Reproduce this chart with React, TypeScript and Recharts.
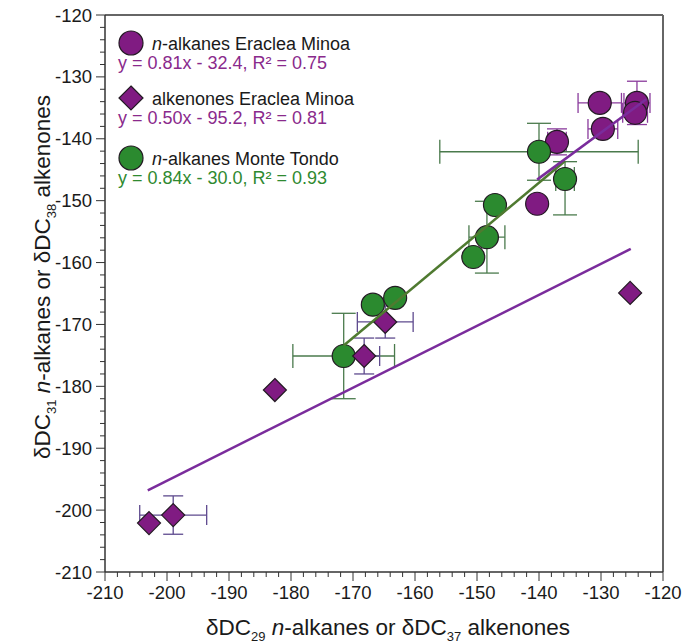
import React from 'react';
import { ScatterChart, Scatter, XAxis, YAxis, ErrorBar, ReferenceLine } from 'recharts';

const FONT = '"Liberation Sans", Arial, Helvetica, sans-serif';

// axis ticks
const majorTicks = [-210, -200, -190, -180, -170, -160, -150, -140, -130, -120];
const minorStep = 2;
const allTicks: number[] = [];
for (let i = 0; i < majorTicks.length - 1; i++) {
  for (let v = majorTicks[i]; v < majorTicks[i + 1]; v += minorStep) allTicks.push(v);
}
allTicks.push(majorTicks[majorTicks.length - 1]);

// n-alkanes Eraclea Minoa (purple circles)
const emAlkX = [-130.2, -124.2, -124.5, -129.7, -137.1, -140.3];
const emAlkY = [-134.2, -134.2, -135.8, -138.4, -140.5, -150.5];
const emAlkXErr = [3.5, 2.1, 2.0, 2.4, 1.5, null];
const emAlkYErr = [null, 3.5, null, null, 2.1, null];

// alkenones Eraclea Minoa (purple diamonds)
const emKetX = [-182.6, -168.2, -164.8, -125.3, -202.9, -199.0];
const emKetY = [-180.6, -175.1, -169.6, -164.9, -202.1, -200.8];
const emKetXErr = [null, 2.5, 4.5, null, null, 5.4];
const emKetYErr = [null, 2.9, 2.6, null, null, 3.1];

// n-alkanes Monte Tondo (green circles)
const mtAlkX = [-140.0, -135.8, -147.1, -148.4, -150.6, -166.8, -163.2, -171.5];
const mtAlkY = [-142.1, -146.5, -150.7, -155.9, -159.1, -166.8, -165.7, -175.1];
const mtAlkXErr = [16.0, 1.5, null, 2.9, null, null, null, 8.2];
const mtAlkYErr: any[] = [4.6, [5.8, 2.8], null, 5.8, null, null, null, 6.9];

// regression lines, end points
const fitEmAlkX = [-140.3, -122.7];
const fitEmAlkY = [-146.6, -133.6];
const fitEmKetX = [-203.1, -125.2];
const fitEmKetY = [-196.8, -157.8];
const fitMtAlkX = [-171.5, -135.8];
const fitMtAlkY = [-173.4, -143.6];

const toRows = (xs: number[], ys: number[], xe: any[], ye: any[]) =>
  xs.map((x, i) => ({ x, y: ys[i], ex: xe[i], ey: ye[i] }));
const lineRows = (xs: number[], ys: number[]) => xs.map((x, i) => ({ x, y: ys[i] }));

const emAlkData = toRows(emAlkX, emAlkY, emAlkXErr, emAlkYErr);
const emKetData = toRows(emKetX, emKetY, emKetXErr, emKetYErr);
const mtAlkData = toRows(mtAlkX, mtAlkY, mtAlkXErr, mtAlkYErr);

const PURPLE = '#801b82';
const GREEN = '#2b8a2f';
const PURPLE_TEXT = '#8a2a8c';
const GREEN_TEXT = '#2f8a30';
const PURPLE_LINE = '#7a2c9c';
const GREEN_LINE = '#4f7a30';
const OUTLINE = '#231a23';

const CircleShape = (fill: string) => (props: any) => {
  const { cx, cy } = props;
  if (cx == null || cy == null) return <g />;
  return <circle cx={cx} cy={cy} r={11.5} fill={fill} stroke={OUTLINE} strokeWidth={1.2} />;
};
const DiamondShape = (props: any) => {
  const { cx, cy } = props;
  if (cx == null || cy == null) return <g />;
  const r = 11.5;
  return (
    <polygon
      points={`${cx},${cy - r} ${cx + r},${cy} ${cx},${cy + r} ${cx - r},${cy}`}
      fill={PURPLE}
      stroke={OUTLINE}
      strokeWidth={1.2}
    />
  );
};
const NoShape = () => <g />;

const XTick = (props: any) => {
  const { x, y, payload } = props;
  const v = payload.value;
  const major = v % 10 === 0;
  return (
    <g>
      <line x1={x} x2={x} y1={y} y2={y + (major ? 9 : 5)} stroke="#333" strokeWidth={1} />
      {major && (
        <text x={x} y={y + 27} textAnchor="middle" fontSize={18.5} fill="#1a1a1a" fontFamily={FONT}>
          {v}
        </text>
      )}
    </g>
  );
};
const YTick = (props: any) => {
  const { x, y, payload } = props;
  const v = payload.value;
  const major = v % 10 === 0;
  return (
    <g>
      <line x1={x} x2={x - (major ? 9 : 5)} y1={y} y2={y} stroke="#333" strokeWidth={1} />
      {major && (
        <text x={x - 13} y={y + 6.5} textAnchor="end" fontSize={18.5} fill="#1a1a1a" fontFamily={FONT}>
          {v}
        </text>
      )}
    </g>
  );
};

export default function App() {
  return (
    <div style={{ position: 'absolute', left: 0, top: 0, width: 692, height: 643, background: '#fff' }}>
      <ScatterChart width={692} height={643} margin={{ top: 15, right: 29, bottom: 0, left: 0 }}>
        <XAxis
          type="number"
          dataKey="x"
          domain={[-210, -120]}
          ticks={allTicks}
          interval={0}
          tick={<XTick />}
          tickLine={false}
          tickSize={0}
          tickMargin={0}
          height={71}
          axisLine={{ stroke: '#333', strokeWidth: 1.5 }}
          allowDataOverflow
        />
        <YAxis
          type="number"
          dataKey="y"
          domain={[-210, -120]}
          ticks={allTicks}
          interval={0}
          tick={<YTick />}
          tickLine={false}
          tickSize={0}
          tickMargin={0}
          width={105}
          axisLine={{ stroke: '#333', strokeWidth: 1.5 }}
          allowDataOverflow
        />
        <ReferenceLine y={-120} stroke="#666" strokeWidth={2} ifOverflow="extendDomain" />
        <ReferenceLine x={-120} stroke="#666" strokeWidth={2} ifOverflow="extendDomain" />

        <Scatter data={emAlkData} shape={CircleShape(PURPLE)} isAnimationActive={false} />
        <Scatter data={emAlkData} shape={NoShape} isAnimationActive={false}>
          <ErrorBar dataKey="ex" direction="x" width={10} stroke="#8a3a9c" strokeWidth={1.3} />
          <ErrorBar dataKey="ey" direction="y" width={10} stroke="#8a3a9c" strokeWidth={1.3} />
        </Scatter>

        <Scatter data={mtAlkData} shape={CircleShape(GREEN)} isAnimationActive={false} />
        <Scatter data={mtAlkData} shape={NoShape} isAnimationActive={false}>
          <ErrorBar dataKey="ex" direction="x" width={12} stroke="#4a7a4c" strokeWidth={1.3} />
          <ErrorBar dataKey="ey" direction="y" width={12} stroke="#4a7a4c" strokeWidth={1.3} />
        </Scatter>

        <Scatter data={emKetData} shape={DiamondShape} isAnimationActive={false} />
        <Scatter data={emKetData} shape={NoShape} isAnimationActive={false}>
          <ErrorBar dataKey="ex" direction="x" width={10} stroke="#5e4a8e" strokeWidth={1.3} />
          <ErrorBar dataKey="ey" direction="y" width={10} stroke="#5e4a8e" strokeWidth={1.3} />
        </Scatter>

        <Scatter
          data={lineRows(fitEmKetX, fitEmKetY)}
          shape={NoShape}
          line={{ stroke: PURPLE_LINE, strokeWidth: 2.5 }}
          isAnimationActive={false}
        />
        <Scatter
          data={lineRows(fitMtAlkX, fitMtAlkY)}
          shape={NoShape}
          line={{ stroke: GREEN_LINE, strokeWidth: 2.5 }}
          isAnimationActive={false}
        />
        <Scatter
          data={lineRows(fitEmAlkX, fitEmAlkY)}
          shape={NoShape}
          line={{ stroke: PURPLE_LINE, strokeWidth: 2.5 }}
          isAnimationActive={false}
        />
      </ScatterChart>

      <svg
        width={692}
        height={643}
        style={{ position: 'absolute', left: 0, top: 0, pointerEvents: 'none' }}
        fontFamily={FONT}
      >
        {/* legend */}
        <circle cx={131} cy={43} r={12} fill={PURPLE} stroke={OUTLINE} strokeWidth={1.2} />
        <text x={152} y={49.5} fontSize={18} fill="#1a1a1a">
          <tspan fontStyle="italic">n</tspan>-alkanes Eraclea Minoa
        </text>
        <text x={118} y={69} fontSize={18} fill={PURPLE_TEXT}>
          y = 0.81x - 32.4, R² = 0.75
        </text>

        <polygon points="131,86 143,98 131,110 119,98" fill={PURPLE} stroke={OUTLINE} strokeWidth={1.2} />
        <text x={152} y={104.5} fontSize={18} fill="#1a1a1a">
          alkenones Eraclea Minoa
        </text>
        <text x={118} y={124} fontSize={18} fill={PURPLE_TEXT}>
          y = 0.50x - 95.2, R² = 0.81
        </text>

        <circle cx={131} cy={158} r={12} fill={GREEN} stroke={OUTLINE} strokeWidth={1.2} />
        <text x={152} y={164.5} fontSize={18} fill="#1a1a1a">
          <tspan fontStyle="italic">n</tspan>-alkanes Monte Tondo
        </text>
        <text x={118} y={184} fontSize={18} fill={GREEN_TEXT}>
          y = 0.84x - 30.0, R² = 0.93
        </text>

        {/* x axis title */}
        <text x={388} y={635} fontSize={22.5} fill="#1a1a1a" textAnchor="middle">
          δDC<tspan fontSize={13} dy={6}>29</tspan>
          <tspan dy={-6}> </tspan>
          <tspan fontStyle="italic">n</tspan>-alkanes or δDC<tspan fontSize={13} dy={6}>37</tspan>
          <tspan dy={-6}> alkenones</tspan>
        </text>

        {/* y axis title */}
        <text x={0} y={0} fontSize={22.5} fill="#1a1a1a" textAnchor="middle" transform="translate(50,277) rotate(-90)">
          δDC<tspan fontSize={13} dy={6}>31</tspan>
          <tspan dy={-6}> </tspan>
          <tspan fontStyle="italic">n</tspan>-alkanes or δDC<tspan fontSize={13} dy={6}>38</tspan>
          <tspan dy={-6}> alkenones</tspan>
        </text>
      </svg>
    </div>
  );
}
